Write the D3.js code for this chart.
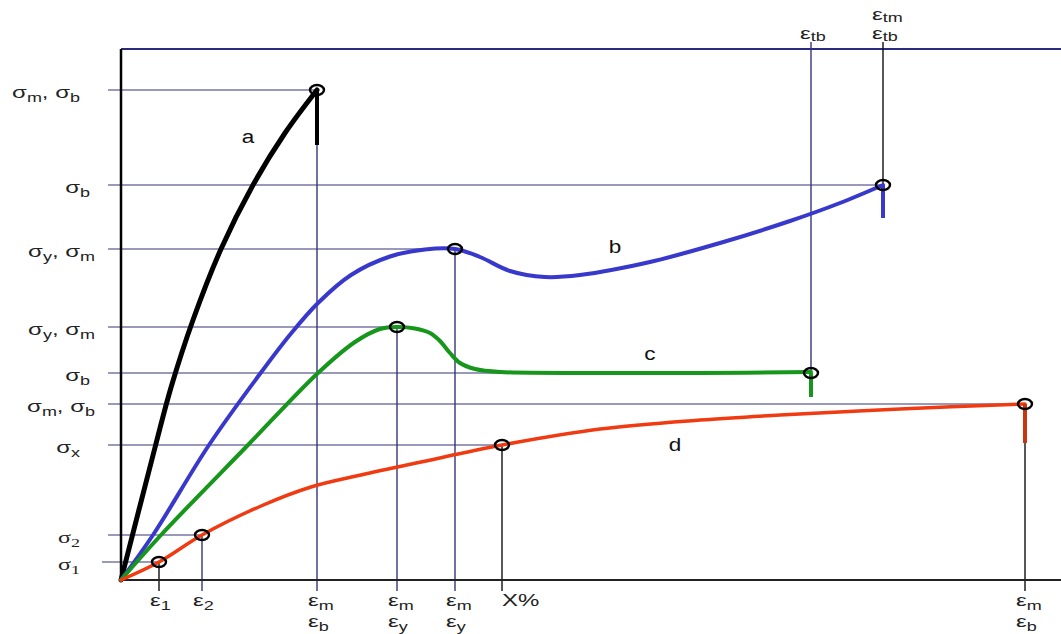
<!DOCTYPE html>
<html>
<head>
<meta charset="utf-8">
<script src="https://cdn.jsdelivr.net/npm/d3@7"></script>
<style>
  body { margin: 0; background: #fff; }
  svg { display: block; }
</style>
</head>
<body>
<div id="chart"></div>
<script>
// Curves: [strain, stress] in arbitrary units
const curveA = [[0, 0], [3.4, 26.5], [5, 38.5], [7.2, 52], [10, 66.2], [13.2, 79], [16.4, 89.4], [19.6, 98]];
const curveB = [[0, 0], [3.2, 9], [8.8, 27], [14, 41.5], [17, 49.3], [19.7, 55.4], [23, 61], [26.9, 64.7], [30.4, 66.1], [33.4, 66.2],
  [35.9, 64.6], [38.9, 61.8], [42.4, 60.6], [45.9, 61], [52.9, 63.6], [59.9, 67.4], [66.9, 71.8], [71.9, 75.4], [76.2, 79]];
const curveC = [[0, 0], [4, 9], [12.7, 27], [19.7, 41.4], [23.4, 47.6], [25.9, 50.2], [27.6, 50.6], [29.4, 50.3], [30.9, 49.4],
  [31.9, 47.8], [32.9, 45.4], [33.9, 43.4], [35.4, 42.2], [37.9, 41.6], [47.9, 41.4], [57.9, 41.4], [69, 41.6]];
const curveD = [[0, 0], [3.8, 3.6], [8.1, 9], [14, 14.8], [19, 18.6], [24, 21], [30, 23.6], [38.1, 27], [47.9, 30.2], [57.9, 32],
  [65.9, 33], [77.9, 34.2], [90.4, 35.2]];
const curveNames = ["a", "b", "c", "d"];

// Fracture drops: [strain, stress at break, stress at end of drop]
const drops = [[19.6, 98, 87], [76.2, 79, 72.4], [69, 41.4, 36.6], [90.4, 35.2, 27.4]];

// Characteristic points
const keyPoints = [[19.6, 98], [33.4, 66.2], [76.2, 79], [27.6, 50.6], [69, 41.4], [3.8, 3.6], [8.1, 9], [38.1, 27], [90.4, 35.2]];

// Stress levels on the left with the strain each guide line reaches
const stressLevels = [98, 79, 66.2, 50.6, 41.4, 35.2, 27, 9, 3.6];
const stressLabels = ["σ_m, σ_b", "σ_b", "σ_y, σ_m", "σ_y, σ_m", "σ_b", "σ_m, σ_b", "σ_x", "σ_2", "σ_1"];
const stressLineEnds = [19.6, 76.2, 33.4, 27.6, 69, 90.4, 38.1, 8.1, 3.8];

// Strain levels at the bottom with the stress each guide line starts from
const strainLevels = [3.8, 8.1, 19.6, 27.6, 33.4, 38.1, 90.4];
const strainLabels = ["ε_1", "ε_2", "ε_m\nε_b", "ε_m\nε_y", "ε_m\nε_y", "X%", "ε_m\nε_b"];
const strainLineStarts = [3.6, 9, 98, 50.6, 66.2, 27, 35.2];

// Strain levels at the top
const topStrains = [69, 76.2];
const topLabels = ["ε_tb", "ε_tm\nε_tb"];
const topLineEnds = [41.4, 79];

const W = 1061, H = 634;
const x = d3.scaleLinear().domain([0, 94]).range([121, 1061]);
const y = d3.scaleLinear().domain([0, 106.2]).range([580, 49]);

const svg = d3.select("#chart").append("svg")
  .attr("width", W).attr("height", H);

const navy = "#34347a";
const colors = ["#000000", "#3838cc", "#16961a", "#f03a12"];
const dropColors = ["#000000", "#3838cc", "#16961a", "#c8360f"];
const widths = [5, 4, 4, 3.5];

// writes "σ_m, σ_b" style text with subscripts, optionally on two lines
function richText(g, str, px, py, anchor, opts) {
  opts = opts || {};
  const gap = opts.gap || 21;
  const sub = opts.sub || 4;
  str.split("\n").forEach((line, li) => {
    const t = g.append("text")
      .attr("transform", `translate(${px},${py + li * gap}) scale(${opts.sx || 1.5},1)`)
      .attr("text-anchor", anchor)
      .attr("font-family", opts.font || "Liberation Sans, Arial, sans-serif")
      .attr("font-size", 16)
      .attr("fill", "#222");
    const parts = line.split(/_(\w+)/);
    let off = 0;
    parts.forEach((p, i) => {
      if (!p) return;
      const ts = t.append("tspan").text(p);
      if (i % 2) {
        ts.attr("font-size", 12).attr("dy", sub - off);
        off = sub;
      } else {
        ts.attr("dy", -off);
        off = 0;
      }
    });
  });
}

// Top border line
svg.append("line")
  .attr("x1", x(0)).attr("x2", x(94))
  .attr("y1", y(106.2)).attr("y2", y(106.2))
  .attr("stroke", "#2a2a80").attr("stroke-width", 2);

// Horizontal guides
stressLevels.forEach((s, i) => {
  svg.append("line")
    .attr("x1", i === 8 ? 102 : 108).attr("x2", x(stressLineEnds[i]))
    .attr("y1", y(s)).attr("y2", y(s))
    .attr("stroke", navy).attr("stroke-width", 1.2);
});

// Vertical guides from the bottom
const blackGuides = [0, 5, 6];
strainLevels.forEach((e, i) => {
  svg.append("line")
    .attr("x1", x(e)).attr("x2", x(e))
    .attr("y1", y(strainLineStarts[i])).attr("y2", 591)
    .attr("stroke", blackGuides.includes(i) ? "#111" : navy)
    .attr("stroke-width", 1.4);
});

// Vertical guides from the top
topStrains.forEach((e, i) => {
  svg.append("line")
    .attr("x1", x(e)).attr("x2", x(e))
    .attr("y1", 42).attr("y2", y(topLineEnds[i]))
    .attr("stroke", i === 1 ? "#111" : navy)
    .attr("stroke-width", 1.4);
});

// Axes
svg.append("line")
  .attr("x1", x(0)).attr("x2", x(94))
  .attr("y1", y(0)).attr("y2", y(0))
  .attr("stroke", "#222").attr("stroke-width", 2);
svg.append("line")
  .attr("x1", x(0)).attr("x2", x(0))
  .attr("y1", y(106.2)).attr("y2", y(0))
  .attr("stroke", "#000").attr("stroke-width", 2.5);

// Curves
const line = d3.line()
  .x(d => x(d[0]))
  .y(d => y(d[1]))
  .curve(d3.curveCatmullRom.alpha(0.5));

[curveA, curveB, curveC, curveD].forEach((c, i) => {
  svg.append("path")
    .datum(c)
    .attr("fill", "none")
    .attr("stroke", colors[i])
    .attr("stroke-width", widths[i])
    .attr("stroke-linecap", "round")
    .attr("d", line);
});

// Fracture drops
drops.forEach((d, i) => {
  svg.append("line")
    .attr("x1", x(d[0])).attr("x2", x(d[0]))
    .attr("y1", y(d[1])).attr("y2", y(d[2]))
    .attr("stroke", dropColors[i])
    .attr("stroke-width", 4);
});

// Markers
svg.selectAll("ellipse.pt")
  .data(keyPoints)
  .join("ellipse")
  .attr("class", "pt")
  .attr("cx", d => x(d[0]))
  .attr("cy", d => y(d[1]))
  .attr("rx", 7).attr("ry", 5)
  .attr("fill", "none")
  .attr("stroke", "#000")
  .attr("stroke-width", 2.4);

// Left labels
stressLevels.forEach((s, i) => {
  const serif = i >= 7;
  const right = [80, 90, 95, 95, 90, 95, 80, 80, 80][i];
  richText(svg, stressLabels[i], right, y(s) + 8, "end",
    serif ? { font: "Liberation Serif, Times New Roman, serif" } : null);
});

// Bottom labels
strainLevels.forEach((e, i) => {
  const isX = strainLabels[i] === "X%";
  richText(svg, strainLabels[i], x(e) + (isX ? 0 : -9), 606, "start");
});

// Top labels
topStrains.forEach((e, i) => {
  const lines = topLabels[i].split("\n").length;
  richText(svg, topLabels[i], x(e) - 11, 39 - (lines - 1) * 19, "start", { gap: 19, sub: 2 });
});

// Curve names
const namePos = [[12.7, 87.4], [49.4, 65.4], [52.9, 44], [55.4, 25.8]];
curveNames.forEach((n, i) => {
  svg.append("text")
    .attr("transform", `translate(${x(namePos[i][0])},${y(namePos[i][1])}) scale(1.25,1)`)
    .attr("text-anchor", "middle")
    .attr("font-family", "Liberation Sans, Arial, sans-serif")
    .attr("font-size", 18)
    .attr("fill", "#111")
    .text(n);
});
</script>
</body>
</html>
